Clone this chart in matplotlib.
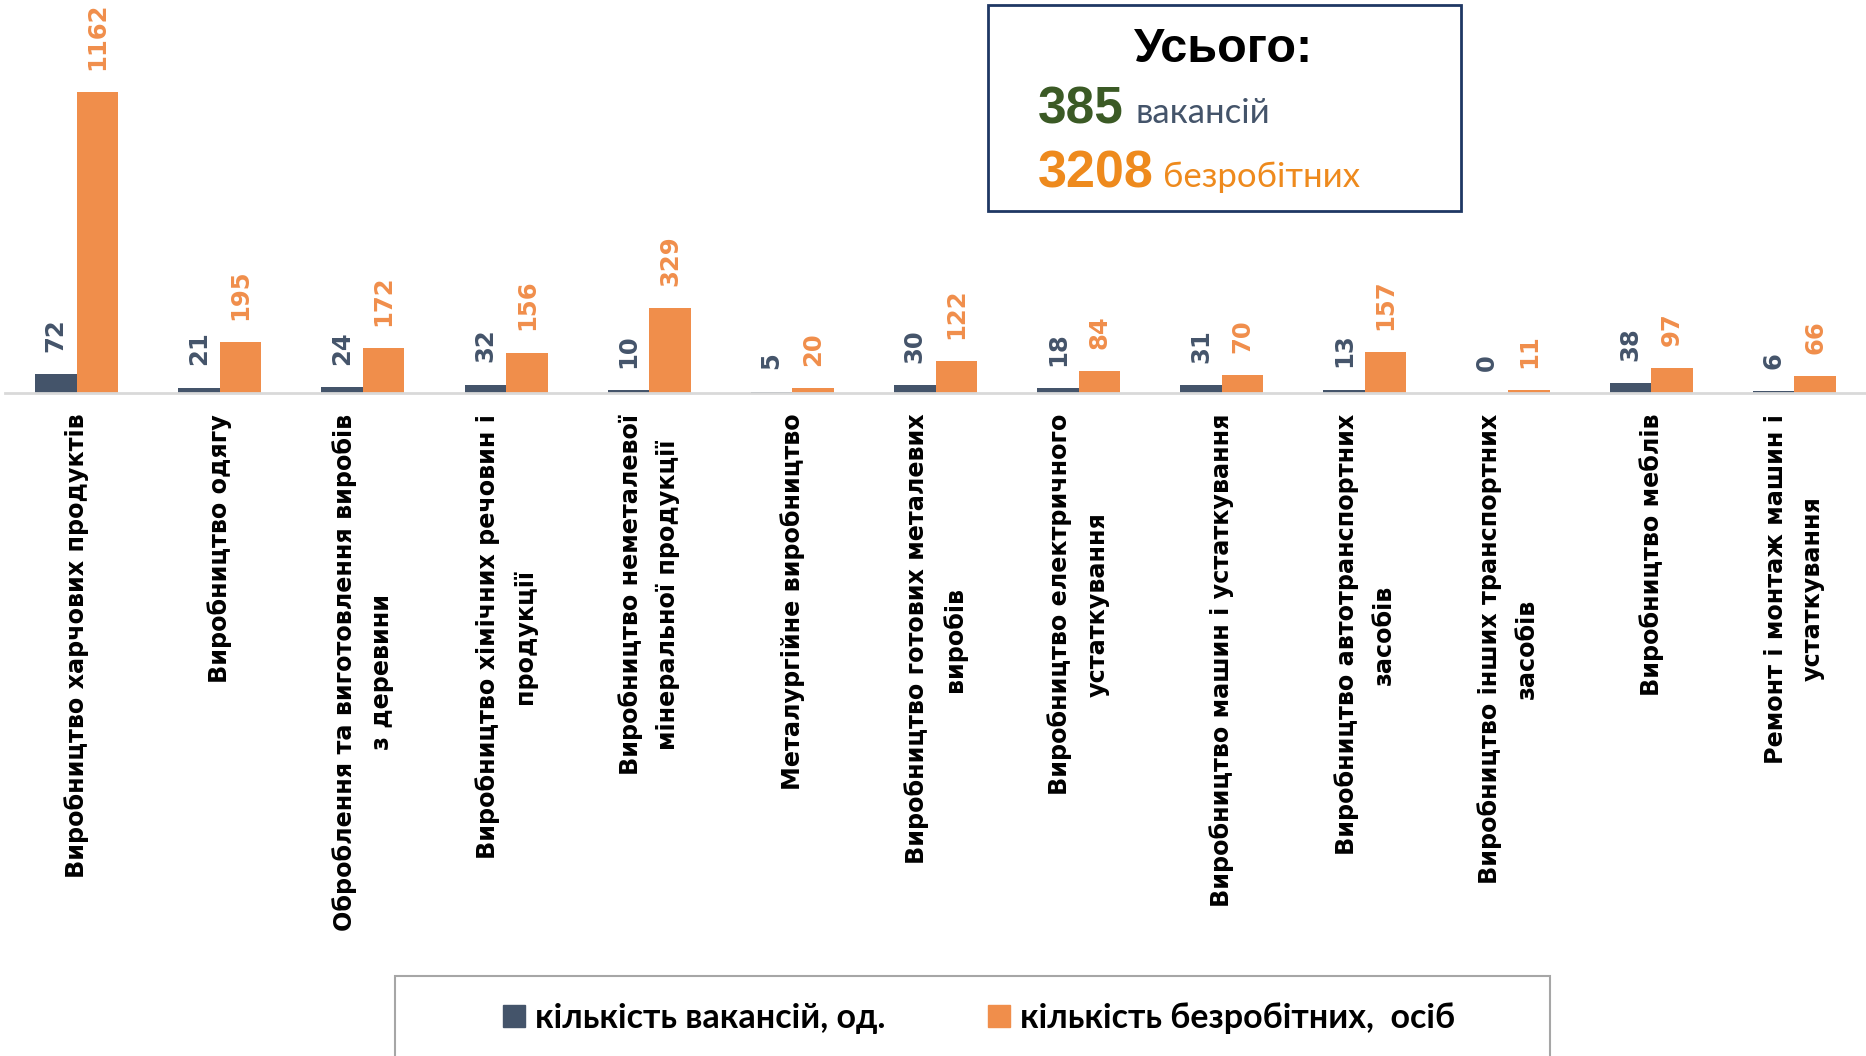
import matplotlib
matplotlib.use("Agg")
import matplotlib.pyplot as plt
from matplotlib.patches import Rectangle, Patch
import numpy as np

categories = [
    "Виробництво харчових продуктів",
    "Виробництво одягу",
    "Оброблення та виготовлення виробів\nз деревини",
    "Виробництво хімічних речовин і\nпродукції",
    "Виробництво неметалевої\nмінеральної продукції",
    "Металургійне виробництво",
    "Виробництво готових металевих\nвиробів",
    "Виробництво електричного\nустаткування",
    "Виробництво машин і устаткування",
    "Виробництво автотранспортних\nзасобів",
    "Виробництво інших транспортних\nзасобів",
    "Виробництво меблів",
    "Ремонт і монтаж машин і\nустаткування",
]
vacancies = [72, 21, 24, 32, 10, 5, 30, 18, 31, 13, 0, 38, 6]
unemployed = [1162, 195, 172, 156, 329, 20, 122, 84, 70, 157, 11, 97, 66]
series_names = ["кількість вакансій, од.", "кількість безробітних,  осіб"]
total_vacancies = 385
total_unemployed = 3208
totals_title = "Усього:"
totals_vac_word = "вакансій"
totals_unemp_word = "безробітних"

DARK = "#44546A"
ORANGE = "#F08E4B"
W, H = 1866, 1056
fig = plt.figure(figsize=(W / 100, H / 100), dpi=100)

def fx(px):
    return px / W

def fy(py):
    return 1 - py / H

base_y = 393
ax = fig.add_axes([fx(5), fy(base_y), fx(1861), base_y / H])
x = np.arange(len(categories))
bw = 0.29
ax.bar(x - bw / 2, vacancies, width=bw, color=DARK)
ax.bar(x + bw / 2, unemployed, width=bw, color=ORANGE)
ax.set_xlim(-0.5, len(categories) - 0.5)
ax.set_ylim(0, 1517)
for s in ["top", "right", "left"]:
    ax.spines[s].set_visible(False)
ax.spines["bottom"].set_color("#D9D9D9")
ax.spines["bottom"].set_linewidth(2)
ax.set_yticks([])
ax.set_xticks(x)
ax.set_xticklabels(categories, rotation=90, fontsize=17.2, fontweight="bold",
                   family="DejaVu Sans", linespacing=1.7, multialignment="center")
ax.tick_params(axis="x", length=0, pad=15)

for xi, v in zip(x, vacancies):
    ax.annotate(str(v), (xi - bw / 2, v), xytext=(0, 16), textcoords="offset points",
                rotation=90, ha="center", va="bottom", fontsize=17.5,
                fontweight="bold", color=DARK, family="DejaVu Sans")
for xi, v in zip(x, unemployed):
    ax.annotate(str(v), (xi + bw / 2, v), xytext=(0, 16), textcoords="offset points",
                rotation=90, ha="center", va="bottom", fontsize=17.5,
                fontweight="bold", color=ORANGE, family="DejaVu Sans")

# legend frame and legend
fig.patches.append(Rectangle((fx(395), fy(1070)), fx(1550 - 395), (1070 - 976) / H,
                             transform=fig.transFigure, fill=False,
                             edgecolor="#A6A6A6", linewidth=1.5))
handles = [Patch(color=DARK), Patch(color=ORANGE)]
fig.legend(handles, series_names, ncol=2, loc="center",
           bbox_to_anchor=(fx(979), fy(1018)), frameon=False,
           prop={"family": "Lato", "weight": "bold", "size": 24.5},
           handlelength=0.65, handleheight=0.6, handletextpad=0.3,
           columnspacing=3.0)

# totals box
fig.patches.append(Rectangle((fx(988), fy(211)), fx(1461 - 988), (211 - 5) / H,
                             transform=fig.transFigure, fill=False,
                             edgecolor="#1F3864", linewidth=2))
fig.text(fx(1224), fy(62), totals_title, ha="center", va="baseline",
         fontsize=35, fontweight="bold", family="Liberation Sans", color="black")
fig.text(fx(1038), fy(123), str(total_vacancies), ha="left", va="baseline",
         fontsize=37, fontweight="bold", family="Liberation Sans", color="#3B5A25")
fig.text(fx(1135), fy(123), totals_vac_word, ha="left", va="baseline",
         fontsize=25, family="Lato", color=DARK)
fig.text(fx(1038), fy(187), str(total_unemployed), ha="left", va="baseline",
         fontsize=37.5, fontweight="bold", family="Liberation Sans", color="#EE8A1D")
fig.text(fx(1163), fy(187), totals_unemp_word, ha="left", va="baseline",
         fontsize=25, family="Lato", color="#EE8A1D")

fig.savefig("out.png", dpi=100, facecolor="white")
